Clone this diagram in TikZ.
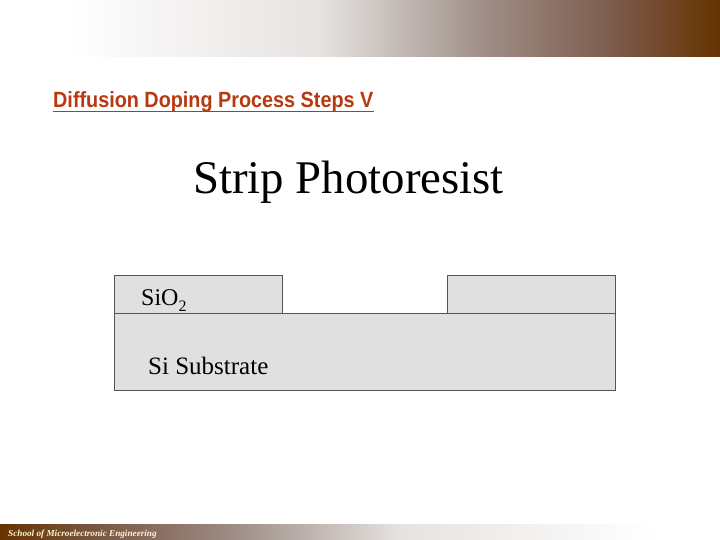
\documentclass[tikz,border=0pt]{standalone}
\usepackage{fontspec}
\setmainfont{Liberation Serif}
\newfontfamily\titlefont{Liberation Sans}
\usepackage{tikz}
\usepackage{xcolor}
\usetikzlibrary{positioning}

\definecolor{brownbar}{HTML}{663300}
\definecolor{titlered}{HTML}{B83810}
\definecolor{layerfill}{HTML}{E0E0E0}
\definecolor{layerline}{HTML}{555555}
\definecolor{footcream}{HTML}{FFF6C8}

\tikzset{
    layer/.style={draw=layerline, fill=layerfill, line width=0.9pt},
    lbl/.style={inner sep=0pt, anchor=base west}
}

\begin{document}
\begin{tikzpicture}[x=1pt, y=-1pt]
                \useasboundingbox (0, 0) rectangle (720, 540);
                \fill[white] (0, 0) rectangle (720, 540);

                % top bar
                \shade[left color=white, right color=white] (0, 0) rectangle (66, 57);
                \shade[left color=white, right color={rgb,255:red,230;green,227;blue,225}] (65, 0) rectangle (321, 57);
                \shade[left color={rgb,255:red,230;green,227;blue,225}, right color={rgb,255:red,160;green,144;blue,137}] (320, 0) rectangle (481, 57);
                \shade[left color={rgb,255:red,160;green,144;blue,137}, right color={rgb,255:red,122;green,88;blue,72}] (480, 0) rectangle (621, 57);
                \shade[left color={rgb,255:red,122;green,88;blue,72}, right color=brownbar] (620, 0) rectangle (720, 57);

                % bottom bar
                \shade[left color=brownbar, right color={rgb,255:red,122;green,88;blue,72}] (0, 524) rectangle (101, 540);
                \shade[left color={rgb,255:red,122;green,88;blue,72}, right color={rgb,255:red,160;green,144;blue,137}] (100, 524) rectangle (241, 540);
                \shade[left color={rgb,255:red,160;green,144;blue,137}, right color={rgb,255:red,230;green,227;blue,225}] (240, 524) rectangle (401, 540);
                \shade[left color={rgb,255:red,230;green,227;blue,225}, right color=white] (400, 524) rectangle (656, 540);

                \node[lbl, text=titlered, font=\titlefont\bfseries\fontsize{22}{24}\selectfont] (title) at (53, 108) {\scalebox{0.9}[1]{Diffusion Doping Process Steps V}};
                \draw[titlered, line width=1.8pt] ([yshift=-3.5pt]title.base west) -- ([yshift=-3.5pt]title.base east);

                \node[lbl, font=\fontsize{46.8}{50}\selectfont] (step) at (193, 194) {Strip Photoresist};

                % wafer cross section
                \draw[layer] (114, 313) rectangle (615, 390);
                \draw[layer] (114, 275) rectangle (282, 313);
                \draw[layer] (447, 275) rectangle (615, 313);
                \node[lbl, font=\fontsize{24}{26}\selectfont] (oxide) at (141, 305) {SiO\raisebox{-6pt}{\fontsize{16}{16}\selectfont 2}};
                \node[lbl, font=\fontsize{25}{27}\selectfont] (substrate) at (148, 374) {Si Substrate};

                \node[lbl, text=footcream, font=\fontsize{9.2}{10}\selectfont\itshape\bfseries] (school) at (8, 536) {School of Microelectronic Engineering};
\end{tikzpicture}
\end{document}
